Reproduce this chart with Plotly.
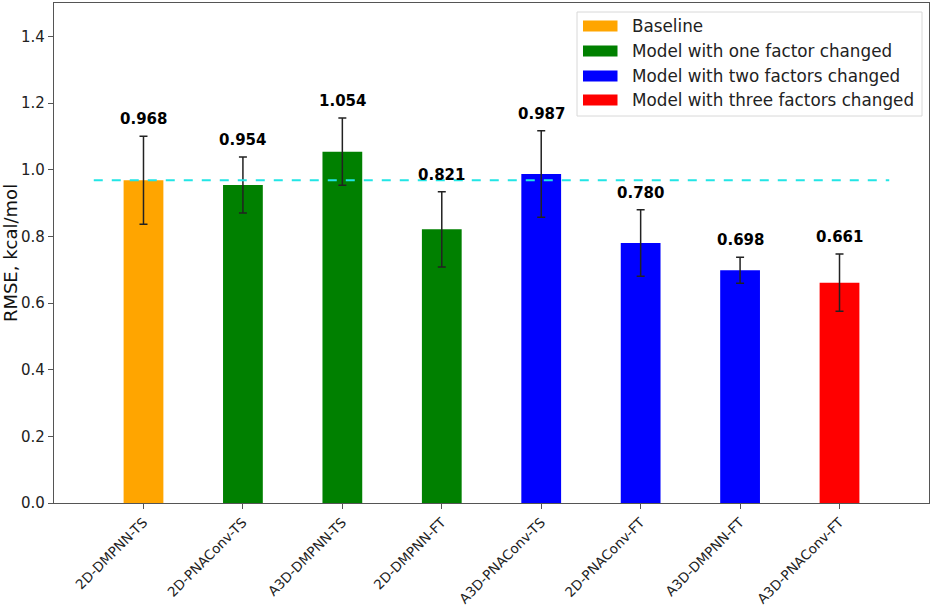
import plotly.graph_objects as go

models = ["2D-DMPNN-TS", "2D-PNAConv-TS", "A3D-DMPNN-TS", "2D-DMPNN-FT",
          "A3D-PNAConv-TS", "2D-PNAConv-FT", "A3D-DMPNN-FT", "A3D-PNAConv-FT"]
rmse = [0.968, 0.954, 1.054, 0.821, 0.987, 0.780, 0.698, 0.661]
err = [0.132, 0.084, 0.101, 0.113, 0.130, 0.100, 0.039, 0.086]
group = [0, 1, 1, 1, 2, 2, 2, 3]
group_names = ["Baseline", "Model with one factor changed",
               "Model with two factors changed", "Model with three factors changed"]
group_colors = ["orange", "green", "blue", "red"]
baseline = 0.968

W, H = 934, 606
ML, MR, MT, MB = 54, 5, 3, 103
PW, PH = W - ML - MR, H - MT - MB


def px_x(px):
    return (px - ML) / PW


def px_y(py):
    return (H - MB - py) / PH


fig = go.Figure()
for g, (name, col) in enumerate(zip(group_names, group_colors)):
    xs = [m for m, gg in zip(models, group) if gg == g]
    ys = [v for v, gg in zip(rmse, group) if gg == g]
    es = [e for e, gg in zip(err, group) if gg == g]
    fig.add_trace(go.Bar(
        x=xs, y=ys, name=name, width=0.4, showlegend=False,
        marker=dict(color=col, line=dict(width=0)),
        error_y=dict(type="data", array=es, color="#222222", thickness=1.5, width=4),
    ))

# baseline dashed line
fig.add_trace(go.Scatter(
    x=[-0.5, 7.5], y=[baseline, baseline], mode="lines",
    line=dict(color="#22e5e5", width=2, dash="dash"),
    showlegend=False, hoverinfo="skip", xaxis="x2",
))

for m, v, e in zip(models, rmse, err):
    fig.add_annotation(x=m, y=v + e, text=f"<b>{v:.3f}</b>", showarrow=False,
                       yanchor="bottom", yshift=6,
                       font=dict(family="DejaVu Sans", size=15, color="black"))

# legend box drawn manually (matplotlib-style wide swatches)
fig.add_shape(type="rect", xref="paper", yref="paper",
              x0=px_x(577), x1=px_x(922), y0=px_y(116), y1=px_y(12),
              fillcolor="rgba(255,255,255,0.9)", line=dict(color="#d8d8d8", width=1), layer="above")
row_centers = [26, 51, 76, 100]
for name, col, cy in zip(group_names, group_colors, row_centers):
    fig.add_shape(type="rect", xref="paper", yref="paper",
                  x0=px_x(583), x1=px_x(617.5), y0=px_y(cy + 5.5), y1=px_y(cy - 5.5),
                  fillcolor=col, line=dict(width=0), layer="above")
    fig.add_annotation(xref="paper", yref="paper", x=px_x(630), y=px_y(cy),
                       xanchor="left", yanchor="middle", text=name, showarrow=False,
                       font=dict(family="DejaVu Sans", size=16.8, color="#222222"))

fig.update_layout(
    width=W, height=H,
    margin=dict(l=ML, r=MR, t=MT, b=MB),
    paper_bgcolor="white", plot_bgcolor="white",
    barmode="overlay",
    font=dict(family="DejaVu Sans", color="#222222"),
    showlegend=False,
    xaxis=dict(
        type="category", categoryorder="array", categoryarray=models,
        range=[-0.9, 7.9], automargin=False,
        showline=True, linecolor="#555555", linewidth=1.2, mirror=True,
        ticks="outside", ticklen=5, tickcolor="#555555",
        tickangle=-45,
        tickfont=dict(family="DejaVu Sans", size=13.5, color="#222222"),
        showgrid=False, zeroline=False,
    ),
    xaxis2=dict(overlaying="x", range=[-0.9, 7.9], visible=False),
    yaxis=dict(
        range=[0, 1.5], tickvals=[0, 0.2, 0.4, 0.6, 0.8, 1.0, 1.2, 1.4],
        tickformat=".1f", automargin=False,
        showline=True, linecolor="#555555", linewidth=1.2, mirror=True,
        ticks="outside", ticklen=5, tickcolor="#555555",
        tickfont=dict(size=15, color="#222222"),
        title=dict(text="RMSE, kcal/mol", font=dict(size=18, color="#111111"), standoff=6),
        showgrid=False, zeroline=False,
    ),
)

fig.write_html("out.html", config={"displayModeBar": False},
               post_script="document.body.style.margin='0';")
